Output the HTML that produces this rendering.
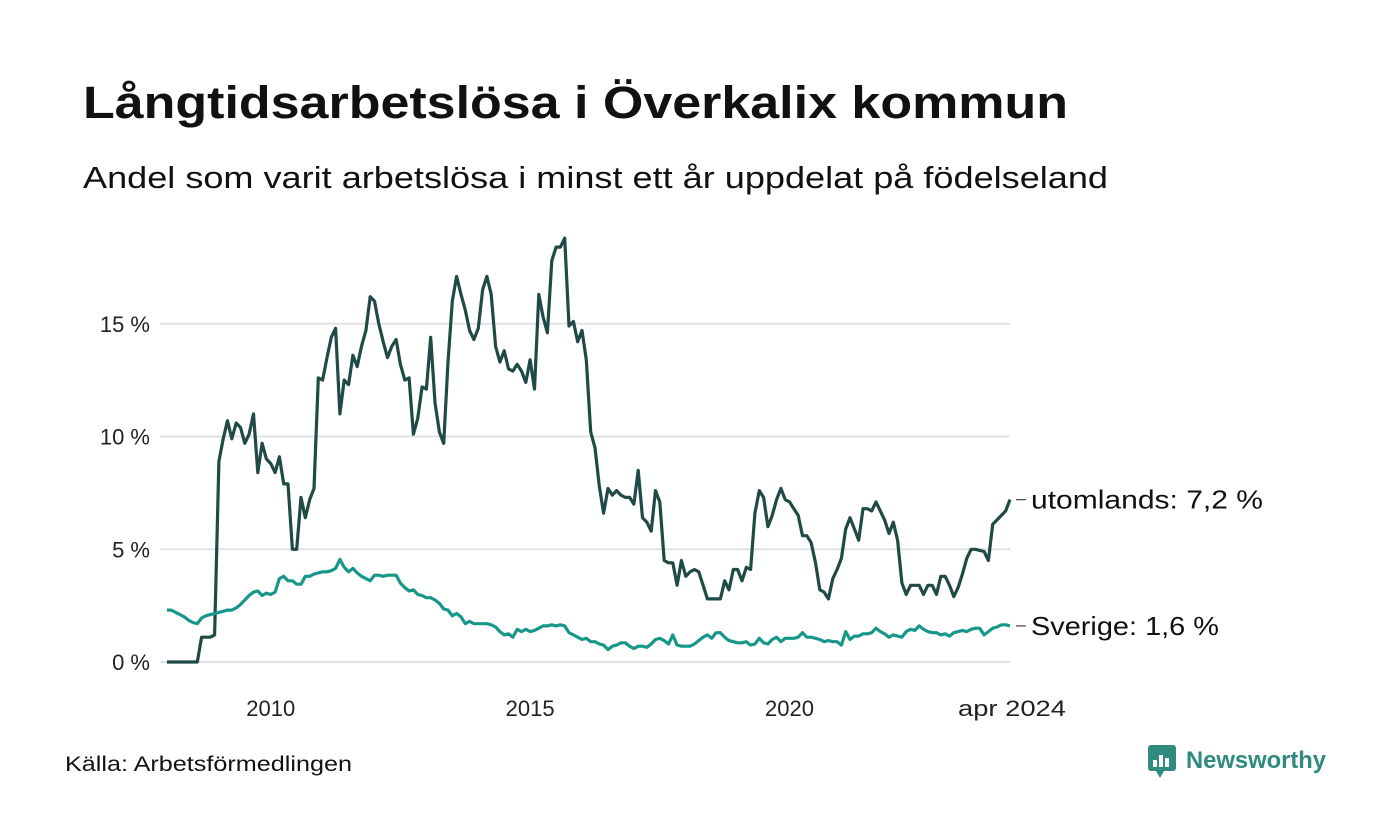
<!DOCTYPE html>
<html><head><meta charset="utf-8"><style>
body{margin:0;background:#fff;font-family:"Liberation Sans","DejaVu Sans",sans-serif;}
#wrap{position:relative;width:1400px;height:840px;overflow:hidden;}
</style></head><body>
<div id="wrap">
<svg id="chart" width="1400" height="840">
<text x="83" y="118" font-size="45" font-weight="bold" fill="#111" textLength="985" lengthAdjust="spacingAndGlyphs">Långtidsarbetslösa i Överkalix kommun</text>
<text x="83" y="188" font-size="31" fill="#111" textLength="1025" lengthAdjust="spacingAndGlyphs">Andel som varit arbetslösa i minst ett år uppdelat på födelseland</text>
<g id="grid"></g><g id="lines"></g><g id="labels"></g>
<text x="65" y="771" font-size="21" fill="#111" textLength="287" lengthAdjust="spacingAndGlyphs">Källa: Arbetsförmedlingen</text>
<g>
<rect x="1148" y="745" width="28" height="26" rx="3" fill="#2e8b7e"/>
<polygon points="1156,771 1164,771 1160,778" fill="#2e8b7e"/>
<rect x="1153" y="760" width="4" height="7" fill="#fff"/><rect x="1159" y="755" width="4" height="12" fill="#fff"/><rect x="1165" y="758" width="4" height="9" fill="#fff"/>
<text x="1186" y="768" font-size="24" font-weight="bold" fill="#2e8b7e" textLength="140" lengthAdjust="spacingAndGlyphs">Newsworthy</text>
</g>
</svg>
</div>
<script>
const yTicks=[0,5,10,15];
const yTickLabels=["0 %","5 %","10 %","15 %"];
const xTickYears=[2010,2015,2020];
const xTickLabels=["2010","2015","2020","apr 2024"];
const seriesNames=["utomlands","Sverige"];
const endLabels=["utomlands: 7,2 %","Sverige: 1,6 %"];
const utomlands=[0,0,0,0,0,0,0,0,1.1,1.1,1.1,1.2,8.9,
9.9,10.7,9.9,10.6,10.4,9.7,10.1,11.0,8.4,9.7,9.0,8.8,
8.4,9.1,7.9,7.9,5.0,5.0,7.3,6.4,7.2,7.7,12.6,12.5,
13.5,14.4,14.8,11.0,12.5,12.3,13.6,13.1,14.0,14.7,16.2,16.0,
15.0,14.2,13.5,14.0,14.3,13.2,12.5,12.6,10.1,10.8,12.2,12.1,
14.4,11.5,10.2,9.7,13.3,16.0,17.1,16.3,15.6,14.7,14.3,14.8,
16.5,17.1,16.3,14.0,13.3,13.8,13.0,12.9,13.2,12.9,12.4,13.4,
12.1,16.3,15.3,14.6,17.8,18.4,18.4,18.8,14.9,15.1,14.2,14.7,
13.4,10.2,9.5,7.8,6.6,7.7,7.4,7.6,7.4,7.3,7.3,7.0,
8.5,6.4,6.2,5.8,7.6,7.1,4.5,4.4,4.4,3.4,4.5,3.8,
4.0,4.1,4.0,3.4,2.8,2.8,2.8,2.8,3.6,3.2,4.1,4.1,
3.6,4.2,4.1,6.6,7.6,7.3,6.0,6.5,7.2,7.7,7.2,7.1,
6.8,6.5,5.6,5.6,5.3,4.4,3.2,3.1,2.8,3.7,4.1,4.6,
5.9,6.4,5.9,5.4,6.8,6.8,6.7,7.1,6.7,6.3,5.7,6.2,
5.4,3.5,3.0,3.4,3.4,3.4,3.0,3.4,3.4,3.0,3.8,3.8,
3.4,2.9,3.3,3.9,4.6,5.0,5.0,4.95,4.9,4.5,6.1,6.3,
6.5,6.7,7.2];
const sverige=[2.3,2.3,2.2,2.1,2.0,1.85,1.75,1.7,1.95,2.05,2.1,2.15,
2.2,2.25,2.3,2.3,2.4,2.55,2.75,2.95,3.1,3.15,2.95,3.05,
3.0,3.1,3.7,3.8,3.6,3.6,3.45,3.45,3.8,3.8,3.9,3.95,
4.0,4.0,4.05,4.15,4.55,4.2,4.0,4.15,3.95,3.8,3.7,3.6,
3.85,3.85,3.8,3.85,3.85,3.85,3.5,3.3,3.15,3.2,3.0,2.95,
2.85,2.85,2.75,2.6,2.35,2.3,2.05,2.15,2.0,1.7,1.8,1.7,
1.7,1.7,1.7,1.65,1.55,1.35,1.2,1.25,1.1,1.45,1.35,1.45,
1.35,1.4,1.5,1.6,1.6,1.65,1.6,1.65,1.6,1.3,1.2,1.1,
1.0,1.05,0.9,0.9,0.8,0.75,0.55,0.7,0.75,0.85,0.85,0.7,
0.6,0.7,0.7,0.65,0.8,1.0,1.05,0.95,0.8,1.2,0.75,0.7,
0.7,0.7,0.8,0.95,1.1,1.2,1.05,1.3,1.3,1.1,0.95,0.9,
0.85,0.85,0.9,0.75,0.8,1.05,0.85,0.8,1.0,1.1,0.9,1.05,
1.05,1.05,1.1,1.3,1.1,1.1,1.05,1.0,0.9,0.95,0.9,0.9,
0.75,1.35,1.0,1.15,1.15,1.25,1.25,1.3,1.5,1.35,1.25,1.1,
1.2,1.15,1.1,1.35,1.45,1.4,1.6,1.45,1.35,1.3,1.3,1.2,
1.25,1.15,1.3,1.35,1.4,1.35,1.45,1.5,1.5,1.2,1.35,1.5,
1.55,1.65,1.65,1.6];
const NS="http://www.w3.org/2000/svg";
const x0=167,x1=1010,y0=662,pxPerPct=22.55;
const n=sverige.length;
const monthStep=(x1-x0)/(n-1);
function xs(i){return x0+i*monthStep;}
function xYear(y){return x0+(y-2008)*12*monthStep;}
function ys(v){return y0-v*pxPerPct;}
function mk(t,a){const e=document.createElementNS(NS,t);for(const k in a)e.setAttribute(k,a[k]);return e;}
const grid=document.getElementById('grid'),lines=document.getElementById('lines'),labels=document.getElementById('labels');
yTicks.forEach((t,i)=>{
 const l=mk('line',{x1:160,x2:x1,y1:ys(t),y2:ys(t),stroke:'#e2e2e6','stroke-width':2});
 
 
 grid.appendChild(l);
 const tx=mk('text',{x:150,y:ys(t)+8,'font-size':22,fill:'#222','text-anchor':'end'});
 tx.textContent=yTickLabels[i];
 
 
 labels.appendChild(tx);
});
xTickYears.forEach((yr,i)=>{
 const tx=mk('text',{x:xYear(yr),y:716,'font-size':22,fill:'#222','text-anchor':'middle'});
 tx.textContent=xTickLabels[i];
 
 
 labels.appendChild(tx);
});
const lastT=mk('text',{x:xs(n-1)+2,y:716,'font-size':22,fill:'#222','text-anchor':'middle',textLength:108,lengthAdjust:'spacingAndGlyphs'});
lastT.textContent=xTickLabels[3];


labels.appendChild(lastT);
const colors=['#1f4a45','#17978a'];
const labelLens=[232,188];
[utomlands,sverige].forEach((s,k)=>{
 const d=s.map((v,i)=>(i?'L':'M')+xs(i).toFixed(1)+','+ys(v).toFixed(1)).join('');
 const p=mk('path',{d:d,fill:'none',stroke:colors[k],'stroke-width':3.2,'stroke-linejoin':'round'});
 
 
 lines.appendChild(p);
 const yv=ys(s[s.length-1]);
 const tick=mk('line',{x1:1016,x2:1026,y1:yv,y2:yv,stroke:'#444','stroke-width':1.2});
 
 
 labels.appendChild(tick);
 const t=mk('text',{x:1031,y:yv+9,'font-size':26,fill:'#111',textLength:labelLens[k],lengthAdjust:'spacingAndGlyphs'});
 t.textContent=endLabels[k];
 
 
 labels.appendChild(t);
});
</script>
</body></html>
